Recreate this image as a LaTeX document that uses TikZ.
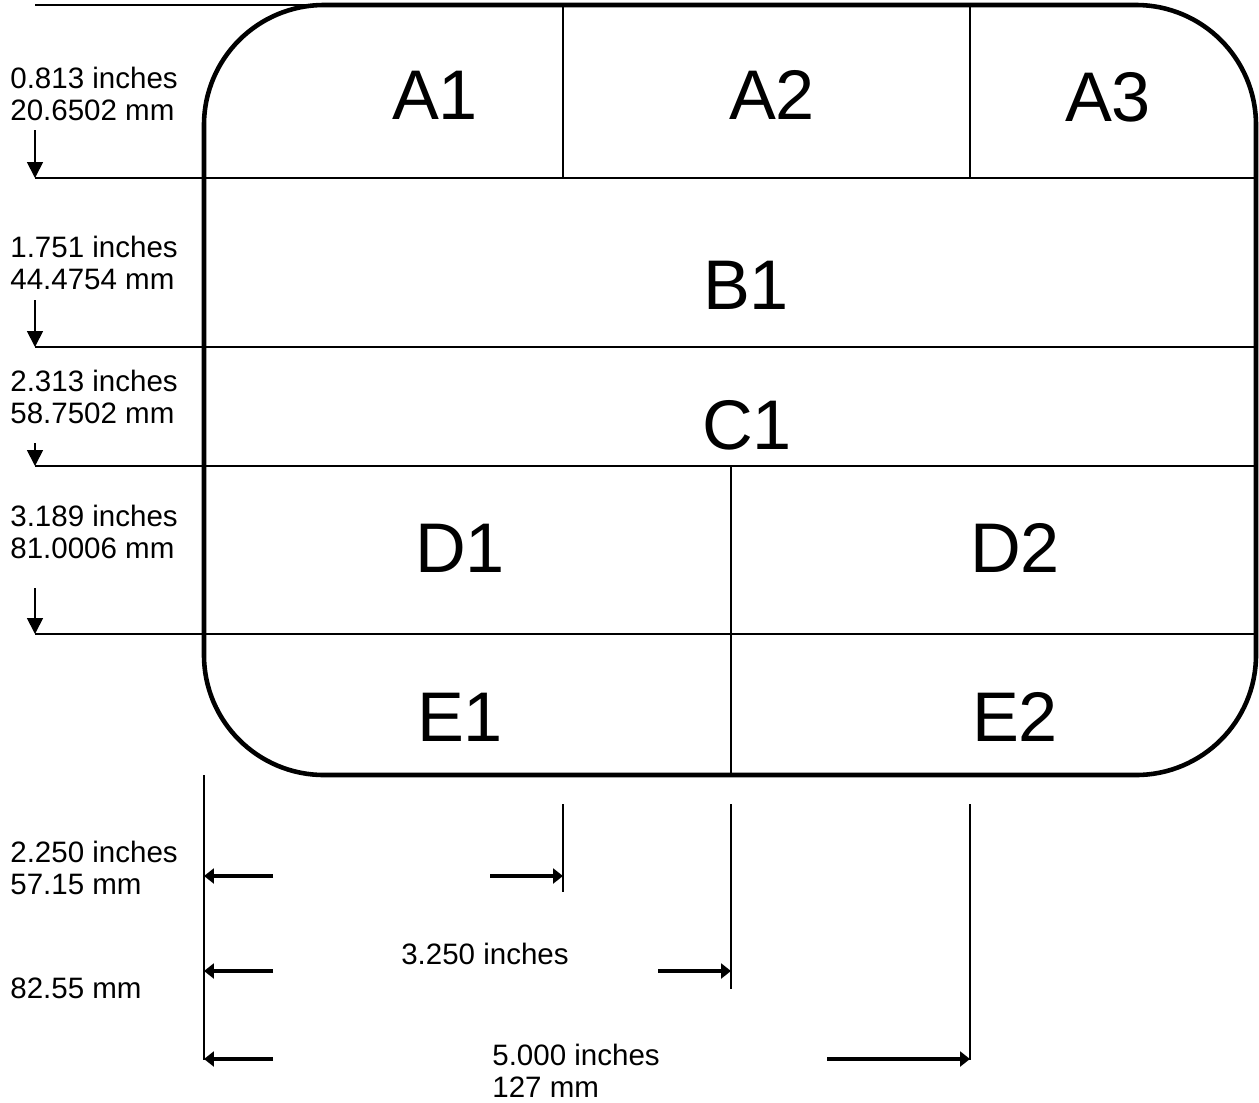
\documentclass[tikz,border=0pt]{standalone}
\usepackage{fontspec}
\setmainfont{Liberation Sans}
\usetikzlibrary{positioning,calc,arrows.meta}
\tikzset{
    cell/.style={inner sep=0pt, font=\fontsize{40}{46}\selectfont},
    dimtext/.style={inner sep=0pt, align=left, anchor=west, font=\fontsize{16.8}{18.2}\selectfont}
}
\begin{document}
\begin{tikzpicture}[
        x=0.02cm, y=-0.02cm,
        % --- STYLE ---
        % Khung ngoai bo goc
        outline/.style={draw=black, line width=2.6pt, rounded corners=2.4cm},
        % Duong chia o
        divider/.style={draw=black, line width=1.4pt},
        % Duong giong kich thuoc
        extline/.style={draw=black, line width=0.8pt},
        % Mui ten kich thuoc
        vdim/.style={draw=black, line width=1pt, -{Triangle[length=0.32cm, width=0.32cm]}},
        hdim/.style={draw=black, line width=2pt, -{Triangle[length=0.2cm, width=0.3cm]}}
    ]
    \useasboundingbox (0,0) rectangle (1259,1103);

    % --- KHUNG & CAC O ---
    \draw[outline] (204,5) rectangle (1256,775);
    \draw[divider] (204,178) -- (1256,178);
    \draw[divider] (204,347) -- (1256,347);
    \draw[divider] (204,466) -- (1256,466);
    \draw[divider] (204,634) -- (1256,634);
    \draw[divider] (563,5) -- (563,178);
    \draw[divider] (970,5) -- (970,178);
    \draw[divider] (731,466) -- (731,775);

    \node[cell] (a1) at (435,95) {A1};
    \node[cell] (a2) at (772,95) {A2};
    \node[cell] (a3) at (1108,97) {A3};
    \node[cell] (b1) at (746,285) {B1};
    \node[cell] (c1) at (747,425) {C1};
    \node[cell] (d1) at (460,548) {D1};
    \node[cell] (d2) at (1015,548) {D2};
    \node[cell] (e1) at (460,717) {E1};
    \node[cell] (e2) at (1015,717) {E2};

    % --- KICH THUOC DOC (BEN TRAI) ---
    \coordinate (top) at (35,5);
    \coordinate (ha) at (35,178);
    \coordinate (hb) at (35,347);
    \coordinate (hc) at (35,466);
    \coordinate (hd) at (35,634);
    \draw[extline] (top) -- (320,5);
    \draw[extline] (ha) -- (204,178);
    \draw[extline] (hb) -- (204,347);
    \draw[extline] (hc) -- (204,466);
    \draw[extline] (hd) -- (204,634);

    \coordinate (sa) at (35,130);
    \coordinate (sb) at (35,300);
    \coordinate (sc) at (35,443);
    \coordinate (sd) at (35,588);
    \draw[vdim] (sa) -- (ha);
    \draw[vdim] (sb) -- (hb);
    \draw[vdim] (sc) -- (hc);
    \draw[vdim] (sd) -- (hd);

    \node[dimtext] (ta) at (10,94) {0.813 inches\\20.6502 mm};
    \node[dimtext] (tb) at (10,263) {1.751 inches\\44.4754 mm};
    \node[dimtext] (tc) at (10,397) {2.313 inches\\58.7502 mm};
    \node[dimtext] (td) at (10,532) {3.189 inches\\81.0006 mm};

    % --- KICH THUOC NGANG (BEN DUOI) ---
    \coordinate (w0) at (204,775);
    \coordinate (wa) at (563,804);
    \coordinate (wb) at (731,804);
    \coordinate (wc) at (970,804);
    \draw[extline] (w0) -- (204,1060);
    \draw[extline] (wa) -- (563,892);
    \draw[extline] (wb) -- (731,989);
    \draw[extline] (wc) -- (970,1060);

    \draw[hdim] (273,876) -- (204,876);
    \draw[hdim] (490,876) -- (563,876);
    \draw[hdim] (273,971) -- (204,971);
    \draw[hdim] (658,971) -- (731,971);
    \draw[hdim] (273,1059) -- (204,1059);
    \draw[hdim] (827,1059) -- (970,1059);

    \node[dimtext] (ua) at (10,868) {2.250 inches\\57.15 mm};
    \node[dimtext, anchor=center] (ub) at (485,954) {3.250 inches};
    \node[dimtext] (ubmm) at (10,988) {82.55 mm};
    \node[dimtext] (uc) at (492,1071) {5.000 inches\\127 mm};

\end{tikzpicture}
\end{document}
